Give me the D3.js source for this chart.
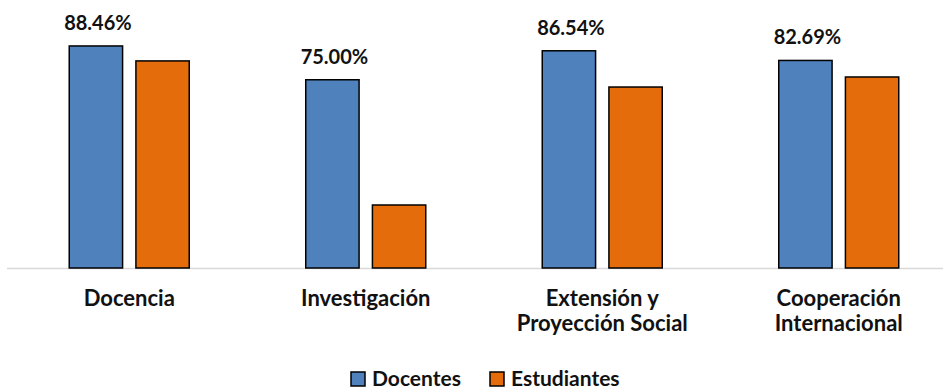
<!DOCTYPE html>
<html>
<head>
<meta charset="utf-8">
<script src="https://cdn.jsdelivr.net/npm/d3@7"></script>
<style>
  body { margin: 0; background: #fff; }
  svg { display: block; font-family: Lato, "Open Sans", sans-serif; font-weight: bold; }
</style>
</head>
<body>
<svg id="chart" width="943" height="391"></svg>
<script>
// categorias (cada una puede ir en dos lineas)
const categorias = ["Docencia", "Investigación", "Extensión y Proyección Social", "Cooperación Internacional"];
const etiquetas = [["Docencia"], ["Investigación"], ["Extensión y", "Proyección Social"], ["Cooperación", "Internacional"]];
const series = ["Docentes", "Estudiantes"];
const docentes = [88.46, 75.00, 86.54, 82.69];
const estudiantes = [82.5, 25.1, 72.1, 76.1];
const colores = ["#4f81bd", "#e46c0a"];

const svg = d3.select("#chart");
const base = 268;

const x0 = d3.scaleBand().domain(categorias).range([11, 957]).paddingInner(0.4926).paddingOuter(0.2463);
const x1 = d3.scaleBand().domain(series).range([0, x0.bandwidth()]).paddingInner(0.2);
const y = d3.scaleLinear().domain([0, 100]).range([base, 17]);

const datos = categorias.map((c, i) => ({ cat: c, vals: [docentes[i], estudiantes[i]] }));

// linea del eje
svg.append("line")
  .attr("x1", 7).attr("x2", 943)
  .attr("y1", base + 0.5).attr("y2", base + 0.5)
  .attr("stroke", "#d9d9d9").attr("stroke-width", 1.5);

const grupos = svg.selectAll("g.cat")
  .data(datos)
  .join("g")
  .attr("class", "cat")
  .attr("transform", d => `translate(${x0(d.cat)},0)`);

grupos.selectAll("rect")
  .data(d => d.vals.map((v, j) => ({ serie: series[j], v: v, j: j })))
  .join("rect")
  .attr("x", d => x1(d.serie))
  .attr("y", d => y(d.v))
  .attr("width", x1.bandwidth())
  .attr("height", d => base - y(d.v))
  .attr("fill", d => colores[d.j])
  .attr("stroke", "#000")
  .attr("stroke-width", 1.5);

// etiquetas de datos (solo docentes)
grupos.append("text")
  .attr("x", d => x1("Docentes") + x1.bandwidth() / 2 + 2)
  .attr("y", d => y(d.vals[0]) - 16)
  .attr("text-anchor", "middle")
  .attr("font-size", 20)
  .attr("fill", "#111")
  .text(d => d.vals[0].toFixed(2) + "%");

// etiquetas de categoria
const xc = svg.append("g");
etiquetas.forEach((lineas, i) => {
  const cx = x0(categorias[i]) + x0.bandwidth() / 2;
  const t = xc.append("text")
    .attr("x", cx)
    .attr("y", 306)
    .attr("text-anchor", "middle")
    .attr("font-size", 22)
    .attr("fill", "#111");
  lineas.forEach((l, k) => {
    t.append("tspan")
      .attr("x", cx)
      .attr("dy", k === 0 ? 0 : 25)
      .text(l);
  });
});

// leyenda
const leg = svg.append("g");
const legX = [351, 490];
series.forEach((s, j) => {
  leg.append("rect")
    .attr("x", legX[j]).attr("y", 372)
    .attr("width", 14).attr("height", 14)
    .attr("fill", colores[j])
    .attr("stroke", "#000").attr("stroke-width", 1.5);
  leg.append("text")
    .attr("x", legX[j] + 21).attr("y", 386)
    .attr("font-size", 21)
    .attr("fill", "#111")
    .text(s);
});
</script>
</body>
</html>
